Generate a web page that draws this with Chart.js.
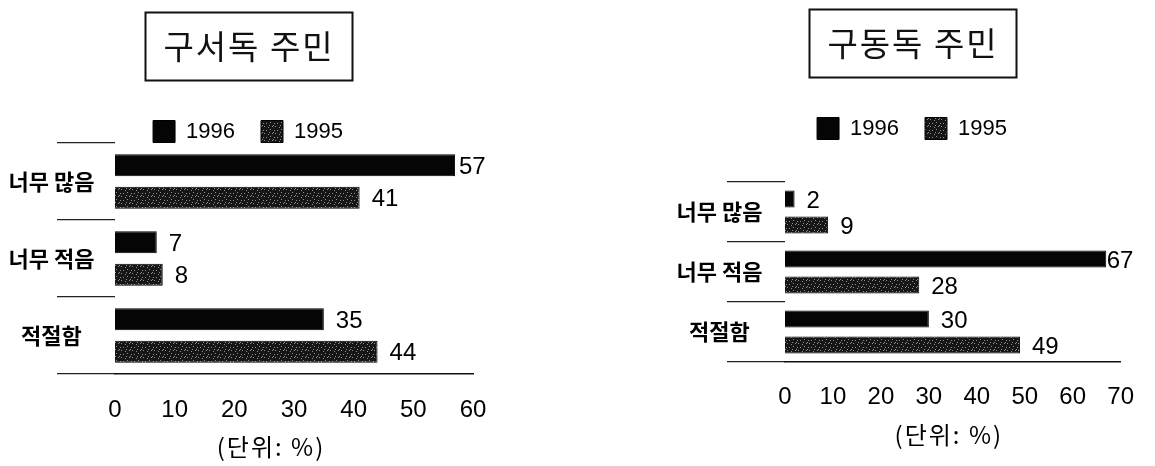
<!DOCTYPE html>
<html>
<head>
<meta charset="utf-8">
<script src="https://cdn.jsdelivr.net/npm/chart.js@4.4.1/dist/chart.umd.min.js"></script>
<style>
  html, body { margin: 0; padding: 0; background: #fff; }
  #wrap { position: relative; width: 1155px; height: 466px; overflow: hidden; }
  canvas { position: absolute; top: 0; }
  #west { left: 0; }
  #east { left: 578px; }
</style>
</head>
<body>
<div id="wrap">
  <canvas id="west" width="577" height="466" style="width:577px;height:466px"></canvas>
  <canvas id="east" width="577" height="466" style="width:577px;height:466px"></canvas>
</div>
<script>
// ---- data ----
const categories = ['너무 많음', '너무 적음', '적절함'];
const seriesNames = ['1996', '1995'];
const unitLabel = '(단위: %)';

const westTitle = '구서독 주민';
const west1996 = [57, 7, 35];
const west1995 = [41, 8, 44];
const westTicks = [0, 10, 20, 30, 40, 50, 60];

const eastTitle = '구동독 주민';
const east1996 = [2, 67, 30];
const east1995 = [9, 28, 49];
const eastTicks = [0, 10, 20, 30, 40, 50, 60, 70];

// ---- fonts ----
const NUM_FONT = "'Liberation Sans', Arial, sans-serif";
const KR_FONT = "'Noto Sans CJK KR', 'Noto Sans', sans-serif";

// speckled fill used for the 1995 bars
function speckle() {
  const c = document.createElement('canvas');
  c.width = 11; c.height = 7;
  const g = c.getContext('2d');
  g.fillStyle = '#161616';
  g.fillRect(0, 0, 11, 7);
  g.fillStyle = '#8e8e8e';
  [[0, 0], [4, 1], [8, 0], [6, 3], [10, 4], [2, 4], [5, 6], [9, 6]]
    .forEach(([x, y]) => g.fillRect(x, y, 1, 1));
  return g.createPattern(c, 'repeat');
}
const grain = speckle();

// boxed, letter-spaced title
const titleFrame = {
  id: 'titleFrame',
  beforeDraw(chart, args, opts) {
    const tb = chart.titleBlock;
    if (tb && !tb.__spaced) {
      tb.__spaced = true;
      const draw = tb.draw.bind(tb);
      tb.draw = function () {
        const ctx = this.ctx;
        ctx.save();
        ctx.letterSpacing = opts.spacing + 'px';
        ctx.translate(opts.spacing / 2, 0);
        draw();
        ctx.restore();
      };
    }
  },
  afterDraw(chart, args, opts) {
    const tb = chart.titleBlock;
    const t = chart.options.plugins.title;
    const font = Chart.helpers.toFont(t.font);
    const pad = Chart.helpers.toPadding(t.padding);
    const cx = (tb.left + tb.right) / 2;
    const cy = tb.top + pad.top + font.lineHeight / 2;
    const ctx = chart.ctx;
    ctx.save();
    ctx.strokeStyle = '#111';
    ctx.lineWidth = 2;
    ctx.strokeRect(Math.round(cx - opts.width / 2) + 0.5, Math.round(cy - opts.height / 2) + 0.5, opts.width, opts.height);
    ctx.restore();
  }
};

// fixed legend band height
const legendBand = {
  id: 'legendBand',
  beforeLayout(chart, args, opts) {
    const lg = chart.legend;
    if (lg && !lg.__banded) {
      lg.__banded = true;
      const fit = lg.fit.bind(lg);
      lg.fit = function () { fit(); this.height = opts.height; };
    }
  }
};

// value at the end of each bar
const barValues = {
  id: 'barValues',
  afterDatasetsDraw(chart, args, opts) {
    const ctx = chart.ctx;
    const area = chart.chartArea;
    ctx.save();
    ctx.fillStyle = '#000';
    ctx.font = opts.size + 'px ' + NUM_FONT;
    ctx.textAlign = 'left';
    ctx.textBaseline = 'middle';
    chart.data.datasets.forEach((ds, di) => {
      const meta = chart.getDatasetMeta(di);
      meta.data.forEach((bar, i) => {
        const x = Math.min(bar.x + opts.gap, area.right - opts.edge);
        ctx.fillText(String(ds.data[i]), x, bar.y + 2);
      });
    });
    ctx.restore();
  }
};

// unit note under the value axis
const unitNote = {
  id: 'unitNote',
  afterDraw(chart, args, opts) {
    const ctx = chart.ctx;
    const area = chart.chartArea;
    ctx.save();
    ctx.fillStyle = '#000';
    ctx.font = opts.size + 'px ' + KR_FONT;
    ctx.letterSpacing = opts.spacing + 'px';
    ctx.textAlign = 'center';
    ctx.textBaseline = 'middle';
    ctx.fillText(opts.text, (area.left + area.right) / 2 + opts.dx + opts.spacing / 2, opts.y);
    ctx.restore();
  }
};

function buildChart(id, title, d96, d95, ticks, geo) {
  const ctx = document.getElementById(id).getContext('2d');
  return new Chart(ctx, {
    type: 'bar',
    data: {
      labels: categories,
      datasets: [
        { label: seriesNames[0], data: d96, backgroundColor: '#050505', borderColor: '#000', borderWidth: 1,
          categoryPercentage: geo.catPct, barPercentage: geo.barPct },
        { label: seriesNames[1], data: d95, backgroundColor: grain, borderColor: '#000', borderWidth: 1,
          categoryPercentage: geo.catPct, barPercentage: geo.barPct }
      ]
    },
    options: {
      indexAxis: 'y',
      responsive: false,
      animation: false,
      devicePixelRatio: 1,
      layout: { padding: { left: geo.padLeft, right: geo.padRight, top: 0, bottom: 0 } },
      scales: {
        x: {
          min: ticks[0],
          max: ticks[ticks.length - 1],
          afterBuildTicks(scale) { scale.ticks = ticks.map(v => ({ value: v })); },
          ticks: { color: '#000', padding: geo.tickPad, autoSkip: false, maxRotation: 0,
                   font: { family: NUM_FONT, size: 24 } },
          grid: { display: false, drawTicks: false },
          border: { display: true, color: '#111', width: 1.6 },
          afterFit(scale) { scale.height = geo.xHeight; }
        },
        y: {
          grid: { offset: true, drawOnChartArea: false, drawTicks: true, tickLength: 58,
                  color: '#222', lineWidth: 1.3 },
          border: { display: false },
          ticks: { color: '#000', mirror: true, crossAlign: 'center', padding: geo.labelPad,
                   font: { family: KR_FONT, size: 22, weight: 'bold' } },
          afterFit(scale) { scale.width = geo.yWidth; }
        }
      },
      plugins: {
        title: {
          display: true,
          text: title,
          color: '#111',
          font: { family: KR_FONT, size: 33, weight: 'normal', lineHeight: 1.2 },
          padding: { top: geo.titleTop, bottom: geo.titleBottom }
        },
        legend: {
          display: true,
          position: 'top',
          labels: {
            color: '#000',
            boxWidth: 22,
            boxHeight: 22,
            padding: 26,
            font: { family: NUM_FONT, size: 22 }
          }
        },
        tooltip: { enabled: false },
        titleFrame: { spacing: 2, width: 207, height: 68 },
        legendBand: { height: geo.legendHeight },
        barValues: { size: 24, gap: 12, edge: 14 },
        unitNote: { text: unitLabel, size: 24, spacing: 2, dx: geo.unitDx, y: geo.unitY }
      }
    },
    plugins: [titleFrame, legendBand, barValues, unitNote]
  });
}

buildChart('west', westTitle, west1996, west1995, westTicks, {
  padLeft: 23, padRight: 104, yWidth: 92, xHeight: 92,
  titleTop: 26.2, titleBottom: 28.7, legendHeight: 48.5,
  tickPad: 22, labelPad: -106.5, catPct: 0.845, barPct: 0.677,
  unitDx: -24, unitY: 447
});

buildChart('east', eastTitle, east1996, east1995, eastTicks, {
  padLeft: 114, padRight: 23, yWidth: 93, xHeight: 104,
  titleTop: 23.2, titleBottom: 28.7, legendHeight: 90.5,
  tickPad: 21, labelPad: -108.5, catPct: 0.867, barPct: 0.654,
  unitDx: -5, unitY: 435
});
</script>
</body>
</html>
